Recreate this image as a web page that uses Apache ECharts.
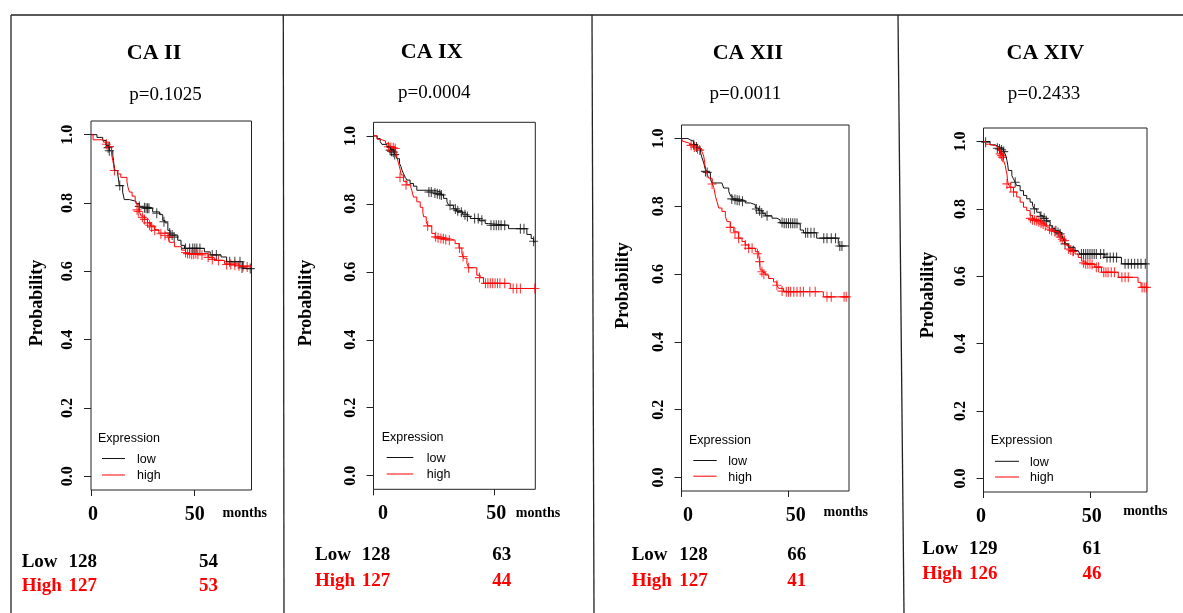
<!DOCTYPE html>
<html><head><meta charset="utf-8">
<script src="https://cdn.jsdelivr.net/npm/echarts@6/dist/echarts.min.js"></script>
<style>html,body{margin:0;padding:0;background:#fff}#c{width:1183px;height:613px}</style>
</head><body><div id="c"></div><script>
// ---------- DATA ----------
const panelTitles = ['CA II', 'CA IX', 'CA XII', 'CA XIV'];
const pValues = ['p=0.1025', 'p=0.0004', 'p=0.0011', 'p=0.2433'];
const xMaxMonths = [78.1, 67.2, 78.3, 76.8];
const xTickValues = [0, 50];
const yTickValues = [0, 0.2, 0.4, 0.6, 0.8, 1.0];
const legendLabels = ['low', 'high'];
const riskLowN = ['128', '128', '128', '129'];
const riskHighN = ['127', '127', '127', '126'];
const riskLow50 = ['54', '63', '66', '61'];
const riskHigh50 = ['53', '44', '41', '46'];

const caII_low = [[0,1],[2.9,0.992],[5.7,0.983],[7.3,0.968],[8.9,0.953],[10.6,0.939],[11,0.924],[11.4,0.895],[13,0.885],[13.8,0.851],[15.4,0.832],[16.2,0.81],[18.7,0.805],[21.9,0.798],[23.6,0.788],[28.5,0.785],[30,0.774],[33.3,0.766],[34.9,0.749],[36,0.742],[37.4,0.72],[38.5,0.706],[42.2,0.691],[43.8,0.676],[45.5,0.667],[55.2,0.657],[58,0.648],[63.3,0.642],[66,0.628],[73.9,0.608],[78.1,0.608]];
const caII_high = [[0,1],[1,0.985],[6,0.978],[9,0.965],[10,0.943],[10.6,0.924],[11.2,0.905],[11.8,0.895],[13,0.885],[14.5,0.875],[17.5,0.862],[18,0.846],[18.7,0.832],[20,0.82],[21.5,0.808],[22.4,0.795],[23.5,0.775],[24.4,0.762],[26,0.752],[27.5,0.742],[29,0.732],[31,0.722],[33,0.712],[37.5,0.7],[38.2,0.685],[40.6,0.672],[44,0.662],[46,0.652],[57,0.641],[60,0.632],[65,0.622],[72,0.616],[78.1,0.612]];
const caII_lowCens = [[8.3,0.962],[8.9,0.953],[14,0.851],[23.5,0.79],[26,0.786],[26.8,0.785],[27.5,0.785],[28.2,0.785],[32,0.77],[35.5,0.745],[38.3,0.712],[39.5,0.706],[40.5,0.7],[46,0.667],[48,0.667],[49.5,0.667],[50.5,0.667],[51.5,0.667],[53,0.667],[59,0.648],[61,0.648],[67.5,0.628],[70,0.628],[72.5,0.628],[73.5,0.61],[77.5,0.608]];
const caII_highCens = [[7.5,0.972],[9,0.965],[11.4,0.895],[22.4,0.78],[23,0.775],[25,0.758],[26,0.752],[27.5,0.742],[28.5,0.735],[29.5,0.73],[31,0.72],[34,0.71],[36,0.705],[38,0.7],[46,0.655],[47,0.652],[48,0.652],[49,0.65],[50,0.65],[51,0.652],[52,0.65],[54,0.648],[57,0.641],[59,0.635],[62,0.632],[66,0.62],[68,0.62],[70,0.618],[72,0.616],[74,0.614],[76,0.613]];

const caIX_low = [[0,1],[1.5,0.992],[2.8,0.983],[3.5,0.975],[5.6,0.968],[7,0.96],[8.5,0.952],[9.2,0.943],[9.7,0.933],[10.8,0.919],[11.4,0.91],[11.8,0.9],[12.5,0.888],[13.2,0.878],[13.9,0.87],[15.2,0.86],[16.6,0.852],[18,0.84],[25,0.835],[28,0.826],[29.1,0.816],[30.5,0.806],[31.2,0.796],[33.2,0.785],[34.5,0.778],[37,0.77],[39,0.763],[40.2,0.757],[44,0.75],[46.4,0.742],[47.8,0.737],[56.1,0.727],[63.7,0.71],[65.5,0.698],[66.5,0.688],[67.2,0.688]];
const caIX_high = [[0,1],[1.5,0.99],[2.8,0.985],[5,0.978],[6.5,0.968],[9,0.963],[9.7,0.938],[10.4,0.919],[11.1,0.9],[11.5,0.885],[12.5,0.866],[13.9,0.856],[15.5,0.848],[15.9,0.84],[16.6,0.82],[18,0.806],[19.4,0.79],[20.5,0.775],[20.8,0.762],[21.9,0.747],[22.6,0.735],[24.2,0.713],[25.6,0.703],[28,0.698],[31.5,0.693],[33.9,0.683],[35.5,0.67],[36.7,0.655],[37.4,0.64],[38.8,0.625],[39.5,0.612],[42.9,0.59],[44.3,0.583],[45.7,0.566],[56.8,0.551],[67.2,0.551]];
const caIX_lowCens = [[6.9,0.958],[7.5,0.955],[8.2,0.952],[8.8,0.945],[23,0.835],[24,0.835],[25.5,0.832],[26.5,0.83],[27.5,0.828],[28.2,0.826],[31.8,0.796],[34,0.785],[35,0.78],[36.5,0.775],[38,0.768],[39,0.763],[42,0.757],[43.5,0.757],[45,0.752],[48.8,0.737],[50,0.737],[51,0.737],[52,0.737],[53,0.737],[54.5,0.737],[61,0.727],[62.5,0.727],[66.5,0.69]];
const caIX_highCens = [[6.2,0.968],[7.2,0.966],[8.2,0.965],[9,0.963],[11,0.878],[13.5,0.856],[22.5,0.735],[25.8,0.703],[26.8,0.7],[28,0.698],[29,0.697],[30,0.695],[31.5,0.693],[35.7,0.67],[37.2,0.645],[39.5,0.612],[44,0.583],[46.5,0.566],[47.5,0.566],[48.5,0.566],[49.5,0.566],[50.5,0.566],[51.5,0.566],[52.5,0.566],[54.5,0.566],[58,0.551],[59.5,0.551],[61,0.551],[67,0.551]];

const caXII_low = [[0,1],[3,0.996],[4.2,0.992],[5.7,0.982],[7.3,0.972],[8.9,0.958],[9.6,0.943],[10.4,0.928],[11,0.912],[11.8,0.903],[12.7,0.898],[13.5,0.879],[14.3,0.869],[18.9,0.864],[19.7,0.854],[22.1,0.844],[23,0.83],[24,0.822],[27,0.817],[29.8,0.81],[32.2,0.805],[34.5,0.795],[36,0.787],[38,0.778],[39.2,0.772],[42.3,0.765],[44.6,0.76],[46.1,0.752],[48,0.748],[55.5,0.73],[57,0.722],[63.2,0.706],[73.3,0.69],[74.1,0.683],[78.3,0.683]];
const caXII_high = [[0,1],[0.5,0.992],[1.1,0.987],[3.4,0.982],[5,0.977],[7.5,0.97],[9.5,0.962],[10.4,0.948],[10.8,0.93],[11.2,0.908],[12,0.895],[12.7,0.883],[14.3,0.868],[15.1,0.855],[15.9,0.829],[16.6,0.814],[17.4,0.795],[18.9,0.785],[20.5,0.77],[21.3,0.755],[22.8,0.738],[24.4,0.725],[26.7,0.706],[28.3,0.696],[29.8,0.686],[31.4,0.676],[34.5,0.666],[36.1,0.656],[36.5,0.637],[36.8,0.612],[38,0.605],[39.2,0.597],[40.7,0.587],[43,0.577],[44.6,0.567],[45.4,0.558],[47.7,0.548],[66.3,0.533],[78.3,0.533]];
const caXII_lowCens = [[5.7,0.982],[7,0.975],[11.2,0.903],[12,0.9],[23.5,0.822],[25,0.82],[26,0.818],[27,0.817],[28.5,0.815],[35,0.792],[36.5,0.787],[37.5,0.78],[40,0.772],[47,0.752],[48,0.75],[49,0.75],[50,0.75],[51,0.75],[52,0.75],[53,0.75],[54,0.75],[58,0.722],[59,0.722],[60.5,0.722],[62,0.722],[66.5,0.706],[68,0.706],[70,0.706],[72,0.706],[74,0.683],[75,0.683]];
const caXII_highCens = [[4.5,0.98],[6,0.975],[7.5,0.97],[8.5,0.966],[14.3,0.866],[22.8,0.738],[25,0.722],[26.7,0.706],[29.8,0.686],[31.4,0.676],[33,0.676],[35.5,0.66],[36.6,0.637],[37.6,0.607],[38.5,0.6],[44.6,0.567],[47,0.55],[49,0.548],[50,0.548],[51,0.548],[52.5,0.548],[54,0.548],[55.5,0.548],[57,0.548],[60,0.548],[62.5,0.548],[68,0.533],[70,0.533],[76,0.533],[77,0.533]];

const caXIV_low = [[0,1],[3.1,0.99],[5.5,0.985],[7,0.98],[9.4,0.972],[10.2,0.963],[10.6,0.955],[11,0.944],[11.4,0.93],[11.7,0.914],[13.3,0.899],[14,0.89],[14.9,0.879],[15.6,0.869],[17.2,0.854],[18.8,0.84],[20.3,0.83],[21.9,0.82],[23,0.81],[23.9,0.8],[25,0.79],[26.6,0.78],[28,0.772],[29.7,0.762],[31.3,0.75],[32.5,0.742],[33.6,0.735],[35,0.73],[36.7,0.722],[37.5,0.711],[38.3,0.696],[39.8,0.686],[43,0.676],[44.5,0.671],[45.3,0.666],[57,0.656],[64.8,0.637],[76.8,0.637]];
const caXIV_high = [[0,1],[1,0.992],[2.4,0.988],[5.5,0.983],[7,0.973],[8,0.962],[9.4,0.944],[10.2,0.929],[10.6,0.915],[11,0.904],[11.3,0.885],[11.6,0.874],[12.5,0.864],[14.1,0.85],[15.6,0.835],[17.2,0.82],[18.8,0.805],[20.3,0.795],[21.9,0.78],[23,0.77],[25,0.765],[27,0.758],[28.5,0.752],[29.7,0.746],[31,0.74],[33,0.733],[35.2,0.72],[36.5,0.712],[38.3,0.703],[39.1,0.691],[40.5,0.681],[42,0.674],[43,0.666],[44.5,0.656],[46.1,0.645],[48,0.637],[52.3,0.627],[55.4,0.612],[63.3,0.597],[72.6,0.582],[74,0.567],[76.8,0.567]];
const caXIV_lowCens = [[1,0.998],[6.5,0.98],[7.5,0.978],[8.5,0.975],[9.5,0.97],[14.9,0.879],[23.9,0.8],[27,0.778],[28.5,0.772],[29.5,0.765],[34,0.735],[35,0.73],[36,0.726],[38.3,0.696],[42.2,0.676],[46,0.666],[47,0.666],[48,0.666],[49,0.666],[50,0.666],[51,0.666],[52,0.666],[53,0.666],[55,0.666],[56.5,0.666],[58,0.656],[59.5,0.656],[61,0.656],[62.5,0.656],[66.5,0.637],[68,0.637],[69.5,0.637],[71,0.637],[72.5,0.637],[74,0.637],[76,0.637]];
const caXIV_highCens = [[7.8,0.963],[8.5,0.958],[9,0.953],[11,0.874],[12.8,0.864],[14.1,0.85],[22,0.772],[23,0.768],[24,0.766],[25,0.765],[26,0.762],[27,0.758],[28,0.755],[29,0.75],[31,0.74],[32,0.736],[33.5,0.733],[36,0.716],[37,0.71],[38,0.706],[40,0.681],[41,0.678],[42,0.674],[47,0.64],[48,0.637],[49,0.637],[50,0.637],[51,0.635],[53,0.627],[54,0.627],[56.5,0.612],[57.5,0.612],[58.5,0.612],[60,0.612],[61.5,0.612],[65,0.597],[66.5,0.597],[68,0.597],[74.5,0.567],[75.5,0.567],[76.5,0.567]];

const lowCurves = [caII_low, caIX_low, caXII_low, caXIV_low];
const highCurves = [caII_high, caIX_high, caXII_high, caXIV_high];
const lowCensors = [caII_lowCens, caIX_lowCens, caXII_lowCens, caXIV_lowCens];
const highCensors = [caII_highCens, caIX_highCens, caXII_highCens, caXIV_highCens];

// ---------- LAYOUT ----------
const layout = [
  {grid:{left:91, top:121, width:160.5, height:369}, title:[154,53], p:[165.5,95], prob:[37,303], legend:{x:98, y:439, lx0:102, lx1:125, ly:[458.5,475], tx:137}, months:[244.7,513], risk:{x:21.7, nx:68.4, y:[562,586.5], vx:208.5}, xShift:[2,1]},
  {grid:{left:373.5, top:122.3, width:161.8, height:367}, title:[431.7,52], p:[434.2,93.5], prob:[306.7,303], legend:{x:381.7, y:438, lx0:386.7, lx1:413.3, ly:[457.5,474], tx:426.7}, months:[538,513], risk:{x:315, nx:361.7, y:[555.5,581], vx:501.7}, xShift:[9.5,2.3]},
  {grid:{left:681.5, top:125, width:167.5, height:366}, title:[747.8,53], p:[745.3,94], prob:[623.3,285.5], legend:{x:689, y:440.5, lx0:693.3, lx1:716.7, ly:[460.5,476.2], tx:728.3}, months:[845.7,512], risk:{x:631.7, nx:679.3, y:[555.5,581], vx:796.7}, xShift:[6.5,7.4]},
  {grid:{left:983.5, top:128, width:163.5, height:364}, title:[1045.3,53], p:[1044,94], prob:[928.3,295], legend:{x:990.7, y:441, lx0:995, lx1:1019, ly:[461.3,477], tx:1030}, months:[1145.3,511], risk:{x:922.3, nx:969, y:[549.5,574.5], vx:1092}, xShift:[-2.5,1.7]}
];

const SERIF = '"Liberation Serif", "Times New Roman", serif';
const SANS = '"Liberation Sans", Arial, sans-serif';
const BLACK = '#111';
const RED = '#ff0000';
const PLUS = 'path://M0,5L10,5M5,0L5,10';

function shiftPad(s){ return s >= 0 ? [0,0,0,2*s] : [0,-2*s,0,0]; }

const grids = [], xAxes = [], yAxes = [], series = [], graphics = [];

layout.forEach((L, i) => {
  grids.push(Object.assign({show:true, borderColor:'#222', borderWidth:1, backgroundColor:'transparent'}, L.grid));
  const rich = {
    a:{fontFamily:SERIF, fontWeight:'bold', fontSize:20, color:'#000', padding:shiftPad(L.xShift[0])},
    b:{fontFamily:SERIF, fontWeight:'bold', fontSize:20, color:'#000', padding:shiftPad(L.xShift[1])}
  };
  xAxes.push({
    gridIndex:i, type:'value', min:0, max:xMaxMonths[i],
    axisLine:{show:false, onZero:false}, splitLine:{show:false},
    axisTick:{show:true, length:6, customValues:xTickValues, lineStyle:{color:'#222'}},
    axisLabel:{show:true, margin:15, customValues:xTickValues,
      formatter:v => (v === xTickValues[0] ? '{a|' : '{b|') + v + '}', rich}
  });
  yAxes.push({
    gridIndex:i, type:'value', min:-0.04, max:1.04,
    axisLine:{show:false, onZero:false}, splitLine:{show:false},
    axisTick:{show:true, length:7, customValues:yTickValues, lineStyle:{color:'#222'}},
    axisLabel:{show:true, rotate:90, margin:15, customValues:yTickValues,
      formatter:v => v.toFixed(1), fontFamily:SERIF, fontWeight:'bold', fontSize:16, color:'#000'}
  });
  const common = {xAxisIndex:i, yAxisIndex:i, silent:true, animation:false};
  series.push(Object.assign({type:'line', name:legendLabels[0], data:lowCurves[i], step:'end', symbol:'none', lineStyle:{color:BLACK, width:1}}, common));
  series.push(Object.assign({type:'line', name:legendLabels[1], data:highCurves[i], step:'end', symbol:'none', lineStyle:{color:RED, width:1}}, common));
  series.push(Object.assign({type:'scatter', name:legendLabels[0]+' censored', data:lowCensors[i], symbol:PLUS, symbolSize:[9,10],
    itemStyle:{color:'rgba(0,0,0,0)', borderColor:BLACK, borderWidth:1.1}}, common));
  series.push(Object.assign({type:'scatter', name:legendLabels[1]+' censored', data:highCensors[i], symbol:PLUS, symbolSize:[9,10],
    itemStyle:{color:'rgba(255,0,0,0)', borderColor:RED, borderWidth:1.1}}, common));

  const txt = (x, y, text, font, fill, align, rot) => ({
    type:'text', x, y, rotation:rot || 0, silent:true,
    style:{text, font, fill, align, textAlign:align, verticalAlign:'middle', textVerticalAlign:'middle'}
  });
  graphics.push(txt(L.title[0], L.title[1], panelTitles[i], 'bold 22px ' + SERIF, '#000', 'center'));
  graphics.push(txt(L.p[0], L.p[1], pValues[i], '19px ' + SERIF, '#000', 'center'));
  graphics.push(txt(L.prob[0], L.prob[1], 'Probability', 'bold 18px ' + SERIF, '#000', 'center', Math.PI/2));
  graphics.push(txt(L.months[0], L.months[1], 'months', 'bold 14px ' + SERIF, '#000', 'center'));
  // legend
  graphics.push(txt(L.legend.x, L.legend.y, 'Expression', '12.5px ' + SANS, '#000', 'left'));
  [BLACK, RED].forEach((c, k) => {
    graphics.push({type:'line', silent:true, shape:{x1:L.legend.lx0, y1:L.legend.ly[k], x2:L.legend.lx1, y2:L.legend.ly[k]}, style:{stroke:c, lineWidth:1}});
    graphics.push(txt(L.legend.tx, L.legend.ly[k] + 1, legendLabels[k], '12.5px ' + SANS, '#000', 'left'));
  });
  // number at risk
  const R = L.risk;
  graphics.push(txt(R.x, R.y[0], 'Low', 'bold 19px ' + SERIF, '#000', 'left'));
  graphics.push(txt(R.nx, R.y[0], riskLowN[i], 'bold 19px ' + SERIF, '#000', 'left'));
  graphics.push(txt(R.vx, R.y[0], riskLow50[i], 'bold 19px ' + SERIF, '#000', 'center'));
  graphics.push(txt(R.x, R.y[1], 'High', 'bold 19px ' + SERIF, RED, 'left'));
  graphics.push(txt(R.nx, R.y[1], riskHighN[i], 'bold 19px ' + SERIF, RED, 'left'));
  graphics.push(txt(R.vx, R.y[1], riskHigh50[i], 'bold 19px ' + SERIF, RED, 'center'));
});

// panel frame lines
const frameLines = [[11,15,1183,15],[11,15,11,613],[283.3,15,284,613],[592,15,594,613],[898,15,904,613]];
frameLines.forEach(f => graphics.push({type:'line', silent:true, shape:{x1:f[0], y1:f[1], x2:f[2], y2:f[3]}, style:{stroke:'#222', lineWidth:1.3}}));

const chart = echarts.init(document.getElementById('c'), null, {renderer:'canvas'});
chart.setOption({
  backgroundColor:'#fff',
  animation:false,
  grid:grids, xAxis:xAxes, yAxis:yAxes, series,
  graphic:{elements:graphics}
});
</script></body></html>
